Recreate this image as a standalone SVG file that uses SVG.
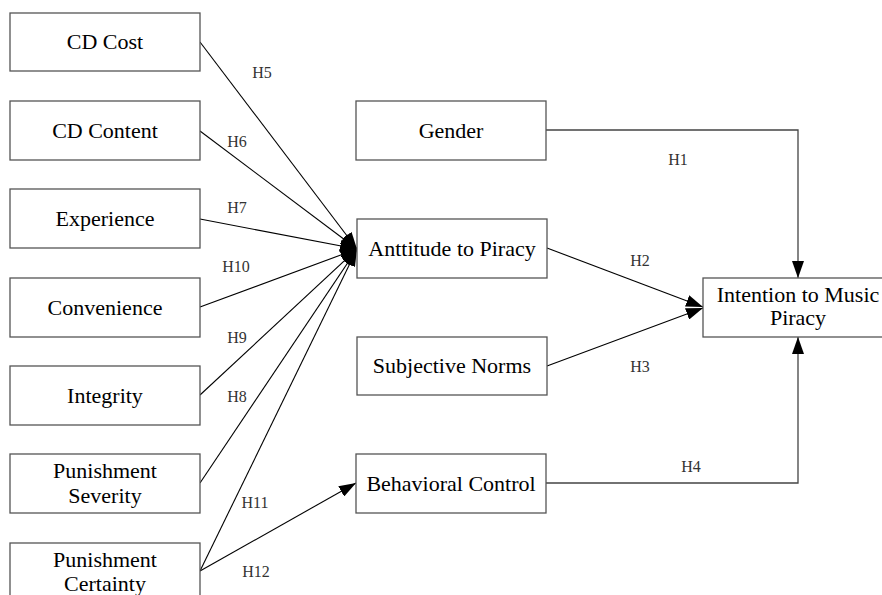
<svg xmlns="http://www.w3.org/2000/svg" width="882" height="595" viewBox="0 0 882 595">
<style>
.box{fill:#fff;stroke:#555;stroke-width:1.3}
.t{font-family:"Liberation Serif","Times New Roman",serif;font-size:22px;fill:#000;text-anchor:middle}
.lab{font-family:"Liberation Serif","Times New Roman",serif;font-size:16px;fill:#333;text-anchor:middle}
.c{fill:none;stroke:#000;stroke-width:1.1}
.c2{fill:none;stroke:#444;stroke-width:1.3}
</style>
<defs>
<marker id="ah" markerUnits="userSpaceOnUse" markerWidth="17" markerHeight="12" refX="17" refY="6" orient="auto">
<path d="M0,0 L17,6 L0,12 z" fill="#000"/>
</marker>
</defs>
<rect width="882" height="595" fill="#fff"/>
<g id="connectors">
<line class="c" x1="200" y1="42" x2="357" y2="249" marker-end="url(#ah)"/>
<line class="c" x1="200" y1="131" x2="357" y2="249" marker-end="url(#ah)"/>
<line class="c" x1="200" y1="219" x2="357" y2="249" marker-end="url(#ah)"/>
<line class="c" x1="200" y1="307" x2="357" y2="249" marker-end="url(#ah)"/>
<line class="c" x1="200" y1="395" x2="357" y2="249" marker-end="url(#ah)"/>
<line class="c" x1="200" y1="483" x2="357" y2="249" marker-end="url(#ah)"/>
<line class="c" x1="200" y1="571" x2="357" y2="249" marker-end="url(#ah)"/>
<line class="c" x1="200" y1="571" x2="356" y2="483" marker-end="url(#ah)"/>
<line class="c" x1="547" y1="248" x2="703" y2="307" marker-end="url(#ah)"/>
<line class="c" x1="547" y1="366" x2="703" y2="308" marker-end="url(#ah)"/>
<path class="c2" d="M546,130 H798 V278" marker-end="url(#ah)"/>
<path class="c2" d="M546,483 H798 V337" marker-end="url(#ah)"/>
<text class="lab" x="262" y="78">H5</text>
<text class="lab" x="237" y="147">H6</text>
<text class="lab" x="237" y="213">H7</text>
<text class="lab" x="236" y="272">H10</text>
<text class="lab" x="237" y="343">H9</text>
<text class="lab" x="237" y="402">H8</text>
<text class="lab" x="255" y="508">H11</text>
<text class="lab" x="256" y="577">H12</text>
<text class="lab" x="678" y="165">H1</text>
<text class="lab" x="640" y="266">H2</text>
<text class="lab" x="640" y="372">H3</text>
<text class="lab" x="691" y="472">H4</text>
</g>
<g id="cd-cost"><rect class="box" x="10" y="13" width="190" height="58"/><text class="t" x="105" y="49">CD Cost</text></g>
<g id="cd-content"><rect class="box" x="10" y="101" width="190" height="59"/><text class="t" x="105" y="138">CD Content</text></g>
<g id="experience"><rect class="box" x="10" y="189" width="190" height="59"/><text class="t" x="105" y="226">Experience</text></g>
<g id="convenience"><rect class="box" x="10" y="278" width="190" height="59"/><text class="t" x="105" y="315">Convenience</text></g>
<g id="integrity"><rect class="box" x="10" y="366" width="190" height="59"/><text class="t" x="105" y="403">Integrity</text></g>
<g id="punishment-severity"><rect class="box" x="10" y="454" width="190" height="59"/><text class="t" x="105" y="478">Punishment</text><text class="t" x="105" y="503">Severity</text></g>
<g id="punishment-certainty"><rect class="box" x="10" y="543" width="190" height="59"/><text class="t" x="105" y="567">Punishment</text><text class="t" x="105" y="591">Certainty</text></g>
<g id="gender"><rect class="box" x="356" y="101" width="190" height="59"/><text class="t" x="451" y="138">Gender</text></g>
<g id="attitude"><rect class="box" x="357" y="219" width="190" height="59"/><text class="t" x="452" y="256">Anttitude to Piracy</text></g>
<g id="subjective-norms"><rect class="box" x="357" y="337" width="190" height="58"/><text class="t" x="452" y="373">Subjective Norms</text></g>
<g id="behavioral-control"><rect class="box" x="356" y="454" width="190" height="59"/><text class="t" x="451" y="491">Behavioral Control</text></g>
<g id="intention"><rect class="box" x="703" y="278" width="190" height="59"/><text class="t" x="798" y="302">Intention to Music</text><text class="t" x="798" y="325">Piracy</text></g>
</svg>
